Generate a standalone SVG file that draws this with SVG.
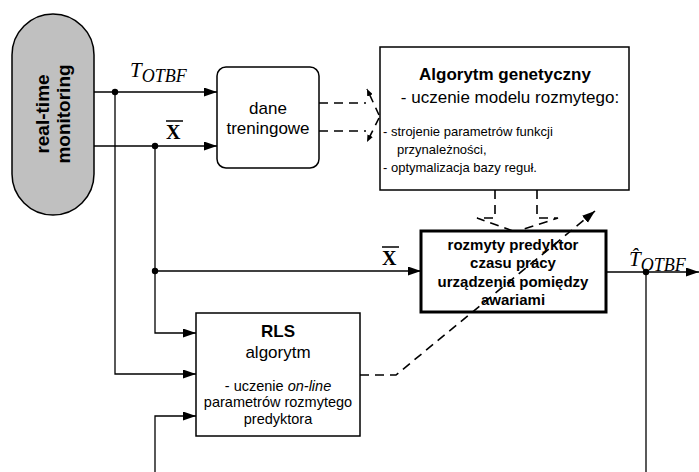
<svg xmlns="http://www.w3.org/2000/svg" width="699" height="472" viewBox="0 0 699 472">
  <style>
    .box { fill: #fff; stroke: #000; stroke-width: 1.5; }
    .thick { fill: #fff; stroke: #000; stroke-width: 3; }
    .wire { fill: none; stroke: #000; stroke-width: 1.3; }
    .dash { fill: none; stroke: #000; stroke-width: 1.6; stroke-dasharray: 9 6; }
    .sans { font-family: "Liberation Sans", Arial, sans-serif; fill: #000; }
    .b { font-weight: bold; }
    .math { font-family: "Liberation Serif", "Times New Roman", serif; font-style: italic; fill: #000; }
    .vec { font-family: "Liberation Serif", "Times New Roman", serif; font-weight: bold; fill: #000; }
  </style>
  <defs>
    <marker id="arrow" markerUnits="userSpaceOnUse" markerWidth="14" markerHeight="10" refX="13" refY="4.5" orient="auto">
      <path d="M0,0 L13,4.5 L0,9 z" fill="#000"/>
    </marker>
    <marker id="tip" markerUnits="userSpaceOnUse" markerWidth="8" markerHeight="6" refX="7" refY="3" orient="auto">
      <path d="M0,0 L7,3 L0,6 z" fill="#000"/>
    </marker>
  </defs>

  <!-- signal source -->
  <g id="monitoring">
    <rect x="12" y="14" width="82" height="201" rx="41" ry="41" fill="#c0c0c0" stroke="#000" stroke-width="1.5"/>
    <text class="sans b" font-size="19" text-anchor="middle" transform="translate(49,114) rotate(-90)">real-time</text>
    <text class="sans b" font-size="19" text-anchor="middle" transform="translate(70,114) rotate(-90)">monitoring</text>
  </g>

  <!-- training data -->
  <g id="dane">
    <rect class="box" x="217" y="67" width="102" height="101" rx="9" ry="9"/>
    <text class="sans" font-size="17" text-anchor="middle" x="268" y="114">dane</text>
    <text class="sans" font-size="17" text-anchor="middle" x="268" y="134">treningowe</text>
  </g>

  <!-- genetic algorithm -->
  <g id="algorytm-genetyczny">
    <rect class="box" x="380" y="47" width="249" height="143"/>
    <text class="sans b" font-size="17" text-anchor="middle" x="505" y="80">Algorytm genetyczny</text>
    <text class="sans" font-size="17" text-anchor="middle" x="510" y="103">- uczenie modelu rozmytego:</text>
    <text class="sans" font-size="13" x="383" y="136">- strojenie parametrów funkcji</text>
    <text class="sans" font-size="13" x="397" y="154">przynależności,</text>
    <text class="sans" font-size="13" x="383" y="172">- optymalizacja bazy reguł.</text>
  </g>

  <!-- fuzzy predictor -->
  <g id="predyktor">
    <rect class="thick" x="421" y="231" width="185" height="81"/>
    <text class="sans b" font-size="15" text-anchor="middle" x="513" y="250">rozmyty predyktor</text>
    <text class="sans b" font-size="15" text-anchor="middle" x="513" y="268">czasu pracy</text>
    <text class="sans b" font-size="15" text-anchor="middle" x="513" y="287">urządzenia pomiędzy</text>
    <text class="sans b" font-size="15" text-anchor="middle" x="513" y="305">awariami</text>
  </g>

  <!-- RLS -->
  <g id="rls">
    <rect class="box" x="196" y="313" width="164" height="123"/>
    <text class="sans b" font-size="17" text-anchor="middle" x="278" y="337">RLS</text>
    <text class="sans" font-size="17" text-anchor="middle" x="278" y="358">algorytm</text>
    <text class="sans" font-size="14.5" text-anchor="middle" x="278" y="391">- uczenie <tspan font-style="italic">on-line</tspan></text>
    <text class="sans" font-size="14.5" text-anchor="middle" x="278" y="407">parametrów rozmytego</text>
    <text class="sans" font-size="14.5" text-anchor="middle" x="278" y="424">predyktora</text>
  </g>

  <!-- connectors -->
  <g id="connectors">
    <!-- T_OTBF measurement -->
    <path class="wire" d="M94,92 H217" marker-end="url(#arrow)"/>
    <path class="wire" d="M115,92 V374 H196" marker-end="url(#arrow)"/>
    <!-- X measurement -->
    <path class="wire" d="M94,146 H217" marker-end="url(#arrow)"/>
    <path class="wire" d="M155,146 V333 H196" marker-end="url(#arrow)"/>
    <path class="wire" d="M155,271 H421" marker-end="url(#arrow)"/>
    <!-- feedback into RLS -->
    <path class="wire" d="M155,472 V416 H196" marker-end="url(#arrow)"/>
    <!-- predictor output -->
    <path class="wire" d="M606,272 H699" marker-end="url(#arrow)"/>
    <path class="wire" d="M646,272 V472"/>

    <!-- junction dots -->
    <circle cx="115" cy="92" r="3.2" fill="#000"/>
    <circle cx="155" cy="146" r="3.2" fill="#000"/>
    <circle cx="155" cy="271" r="3.2" fill="#000"/>
    <circle cx="646" cy="272" r="3.2" fill="#000"/>

    <!-- training data to genetic algorithm -->
    <path class="dash" d="M319,103 H366"/>
    <path class="dash" d="M319,131 H366"/>
    <path fill="none" stroke="#000" stroke-width="1.6" stroke-dasharray="8 6" d="M379,115 L367,89" marker-end="url(#tip)"/>
    <path fill="none" stroke="#000" stroke-width="1.6" stroke-dasharray="8 6" d="M379,118 L367,142" marker-end="url(#tip)"/>

    <!-- genetic algorithm to predictor -->
    <path class="dash" d="M495,190 V218 H477 L513,231"/>
    <path class="dash" d="M537,190 V218 H558 L518,231"/>

    <!-- RLS adaptation of predictor -->
    <path class="dash" d="M360,375 H396 L595,211" marker-end="url(#arrow)"/>

    <!-- signal labels -->
    <text class="math" font-size="21" x="130" y="77">T<tspan font-size="18" dy="5">OTBF</tspan></text>
    <text class="vec" font-size="20" x="166" y="139">X</text>
    <line x1="166" y1="121" x2="183" y2="121" stroke="#000" stroke-width="1.5"/>
    <text class="vec" font-size="20" x="382" y="265">X</text>
    <line x1="382" y1="247" x2="399" y2="247" stroke="#000" stroke-width="1.5"/>
    <text class="math" font-size="21" x="629" y="266">T&#x302;<tspan font-size="18" dy="5">OTBF</tspan></text>
  </g>
</svg>
